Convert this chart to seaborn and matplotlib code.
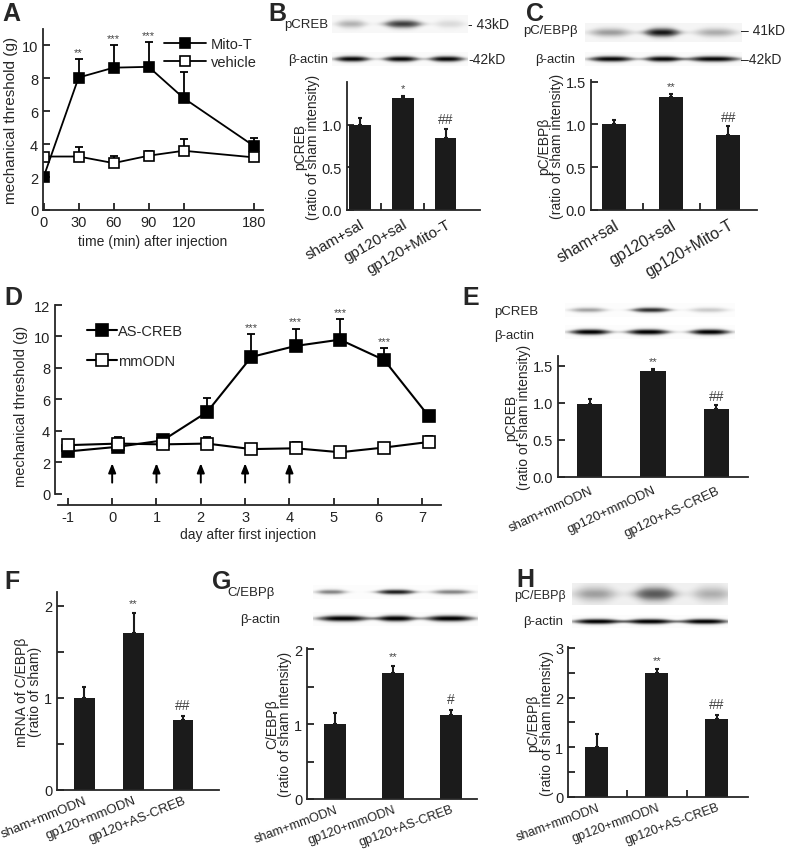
import numpy as np
import matplotlib
matplotlib.use("Agg")
import matplotlib.pyplot as plt
import seaborn as sns

sns.set_style("ticks")
plt.rcParams['font.family'] = ['Liberation Sans', 'DejaVu Sans']
plt.rcParams['axes.unicode_minus'] = False
plt.rcParams['axes.linewidth'] = 1.3
for k in ['xtick', 'ytick']:
    plt.rcParams[k + '.direction'] = 'in'
    plt.rcParams[k + '.major.width'] = 1.3
    plt.rcParams[k + '.minor.width'] = 1.3
    plt.rcParams[k + '.major.size'] = 5
    plt.rcParams[k + '.minor.size'] = 5
    plt.rcParams[k + '.color'] = '#222222'
    plt.rcParams[k + '.labelcolor'] = '#222222'

# =======================
# data
# =======================
a_time = [0, 30, 60, 90, 120, 180]
a_mito = [2.0, 8.05, 8.65, 8.7, 6.8, 3.9]
a_mito_err = [0.0, 1.1, 1.35, 1.5, 1.6, 0.45]
a_veh = [3.25, 3.25, 2.85, 3.3, 3.6, 3.2]
a_veh_err = [0.0, 0.55, 0.45, 0.3, 0.7, 0.0]
a_marks = ['', '**', '***', '***', '', '']

groups_bc = ['sham+sal', 'gp120+sal', 'gp120+Mito-T']
b_vals = [1.0, 1.31, 0.84]
b_err = [0.08, 0.03, 0.11]
b_marks = ['', '*', '##']
b_band_p = [0.35, 0.75, 0.18]
b_band_actin = [0.95, 0.95, 0.95]

c_vals = [1.0, 1.32, 0.88]
c_err = [0.05, 0.04, 0.1]
c_marks = ['', '**', '##']
c_band_p = [0.4, 0.85, 0.35]
c_band_actin = [0.95, 0.95, 0.95]

d_days = [-1, 0, 1, 2, 3, 4, 5, 6, 7]
d_as = [2.7, 3.0, 3.4, 5.2, 8.7, 9.4, 9.8, 8.5, 4.95]
d_as_err = [0.2, 0.2, 0.3, 0.9, 1.45, 1.1, 1.3, 0.75, 0.35]
d_mm = [3.1, 3.2, 3.15, 3.2, 2.85, 2.9, 2.65, 2.95, 3.3]
d_mm_err = [0.35, 0.4, 0.15, 0.4, 0.1, 0.4, 0.1, 0.15, 0.4]
d_marks = ['', '', '', '', '***', '***', '***', '***', '']
d_inject = [0, 1, 2, 3, 4]

groups_ef = ['sham+mmODN', 'gp120+mmODN', 'gp120+AS-CREB']
e_vals = [0.99, 1.43, 0.92]
e_err = [0.06, 0.03, 0.05]
e_marks = ['', '**', '##']
e_band_p = [0.45, 0.85, 0.3]
e_band_actin = [1.0, 1.0, 1.0]

f_vals = [1.0, 1.7, 0.76]
f_err = [0.12, 0.22, 0.04]
f_marks = ['', '**', '##']

g_vals = [1.0, 1.68, 1.13]
g_err = [0.15, 0.1, 0.06]
g_marks = ['', '**', '#']
g_band_p = [0.55, 0.9, 0.55]
g_band_actin = [1.0, 1.0, 1.0]

h_vals = [1.0, 2.5, 1.58]
h_err = [0.27, 0.07, 0.08]
h_marks = ['', '**', '##']
h_band_p = [0.35, 0.6, 0.3]
h_band_actin = [1.0, 1.0, 1.0]

W, H = 788, 853
fig = plt.figure(figsize=(W / 100, H / 100), dpi=100)


def px_axes(x0, y0, x1, y1):
    return fig.add_axes([x0 / W, 1 - y1 / H, (x1 - x0) / W, (y1 - y0) / H])


def ftext(x, y, s, **kw):
    fig.text(x / W, 1 - y / H, s, **kw)


def letter(x, y, s):
    ftext(x, y, s, fontsize=18, fontweight='bold', va='top', ha='left')


def blot(x0, x1, y0, y1, centers, halfw, levels, thick=0.5, base=0.04):
    ax = px_axes(x0, y0, x1, y1)
    xs = np.linspace(x0, x1, 300)
    ys = np.linspace(-1, 1, 40)
    X, Y = np.meshgrid(xs, ys)
    img = np.full_like(X, base)
    for c, hw, lv in zip(centers, halfw, levels):
        prof = np.exp(-np.abs((X - c) / hw) ** 3)
        img += lv * prof * np.exp(-(Y / (thick * (0.4 + 0.6 * prof))) ** 2)
    ax.imshow(np.clip(img, 0, 1), cmap='Greys', vmin=0, vmax=1, aspect='auto',
              interpolation='bilinear')
    ax.axis('off')


def bars(ax, groups, vals, err, marks, width, rot, xlim, ylim, yticks, ylabels,
         ylabel, minor_x=True, minor_y=None, mark_pad=0.03, xfs=9.5, xpad=5):
    sns.barplot(x=groups, y=vals, color='#1b1b1b', saturation=1, width=width,
                edgecolor='none', ax=ax)
    xs = np.arange(len(vals))
    ax.errorbar(xs, vals, yerr=[np.zeros(len(err)), err], fmt='none',
                ecolor='#1b1b1b', elinewidth=1.5, capsize=1.5, capthick=1.5)
    for x, v, e, m in zip(xs, vals, err, marks):
        if m:
            fs = 8 if '*' in m else 10
            ax.text(x, v + e + mark_pad, m, ha='center', va='bottom', fontsize=fs,
                    color='#444444')
    ax.set_xlim(*xlim)
    ax.set_ylim(*ylim)
    ax.set_xticks(xs)
    ax.set_xticklabels(groups, rotation=rot, ha='right', rotation_mode='anchor',
                       fontsize=xfs)
    ax.tick_params(axis='x', which='major', length=0, pad=xpad)
    if minor_x:
        ax.set_xticks([0.5, 1.5], minor=True)
    ax.set_yticks(yticks)
    ax.set_yticklabels(ylabels, fontsize=10.5)
    if minor_y is not None:
        ax.set_yticks(minor_y, minor=True)
    ax.set_ylabel(ylabel, fontsize=10, linespacing=0.95, labelpad=1)
    ax.set_xlabel('')
    sns.despine(ax=ax)


# =======================
# A
# =======================
ax = px_axes(43, 30, 263, 211)
ax.errorbar(a_time, a_mito, yerr=[np.zeros(6), a_mito_err], fmt='none',
            ecolor='black', elinewidth=1.3, capsize=3, capthick=1.3, zorder=1)
ax.errorbar(a_time, a_veh, yerr=[np.zeros(6), a_veh_err], fmt='none',
            ecolor='black', elinewidth=1.3, capsize=3, capthick=1.3, zorder=1)
sns.lineplot(x=a_time, y=a_mito, ax=ax, color='black', marker='s', markersize=7,
             markerfacecolor='black', markeredgecolor='black', markeredgewidth=1.2,
             linewidth=1.3, label='Mito-T')
sns.lineplot(x=a_time, y=a_veh, ax=ax, color='black', marker='s', markersize=7,
             markerfacecolor='white', markeredgecolor='black', markeredgewidth=1.2,
             linewidth=1.3, label='vehicle')
for t, v, e, m in zip(a_time, a_mito, a_mito_err, a_marks):
    if m:
        ax.text(t, v + e + 0.15, m, ha='center', va='bottom', fontsize=8, color='#444444')
ax.set_xlim(-0.5, 188)
ax.set_ylim(0, 11)
ax.set_xticks(a_time)
ax.set_yticks([0, 2, 4, 6, 8, 10])
ax.tick_params(labelsize=10.5)
ax.set_xlabel('time (min) after injection', fontsize=10)
ax.set_ylabel('mechanical threshold (g)', fontsize=11, labelpad=3)
ax.legend(loc='upper right', bbox_to_anchor=(1.03, 1.03), frameon=False, fontsize=10.5,
          handlelength=2.9, labelspacing=0.3, handletextpad=0.3)
sns.despine(ax=ax)
letter(2, 2, 'A')

# =======================
# B
# =======================
blot(332, 468, 16, 34, [351, 403, 450], [16, 20, 16], b_band_p, thick=0.5, base=0.06)
blot(332, 468, 53, 67, [352, 401, 447], [19, 19, 19], b_band_actin, thick=0.45)
ftext(328, 25, 'pCREB', ha='right', va='center', fontsize=9.5)
ftext(328, 60, 'β-actin', ha='right', va='center', fontsize=9.5)
ftext(468, 25, '- 43kD', ha='left', va='center', fontsize=10)
ftext(468, 60, '-42kD', ha='left', va='center', fontsize=10)
ax = px_axes(347, 83, 480, 211)
bars(ax, groups_bc, b_vals, b_err, b_marks, 0.5, 30, (-0.3, 2.8), (0, 1.5),
     [0, 0.5, 1.0], ['0.0', '0.5', '1.0'], 'pCREB\n(ratio of sham intensity)',
     xfs=11)
letter(268, 2, 'B')

# =======================
# C
# =======================
blot(585, 742, 24, 43, [610, 662, 716], [22, 19, 22], c_band_p, thick=0.5, base=0.08)
blot(585, 742, 53, 67, [611, 663, 714], [24, 20, 28], c_band_actin, thick=0.45)
ftext(578, 31, 'pC/EBPβ', ha='right', va='center', fontsize=9.5)
ftext(575, 60, 'β-actin', ha='right', va='center', fontsize=9.5)
ftext(741, 31, '– 41kD', ha='left', va='center', fontsize=10)
ftext(741, 60, '–42kD', ha='left', va='center', fontsize=10)
ax = px_axes(591, 81, 757, 211)
bars(ax, groups_bc, c_vals, c_err, c_marks, 0.42, 30, (-0.4, 2.5), (0, 1.52),
     [0, 0.5, 1.0, 1.5], ['0.0', '0.5', '1.0', '1.5'],
     'pC/EBPβ\n(ratio of sham intensity)', xfs=11.5)
letter(526, 2, 'C')

# =======================
# D
# =======================
ax = px_axes(55, 306, 441, 506)
d_x = [d + (0.14 if d >= 0 else 0) for d in d_days]
ax.errorbar(d_x, d_as, yerr=[np.zeros(9), d_as_err], fmt='none', ecolor='black',
            elinewidth=1.3, capsize=3, capthick=1.3, zorder=1)
ax.errorbar(d_x, d_mm, yerr=[np.zeros(9), d_mm_err], fmt='none', ecolor='black',
            elinewidth=1.3, capsize=3, capthick=1.3, zorder=1)
sns.lineplot(x=d_x, y=d_as, ax=ax, color='black', marker='s', markersize=8.5,
             markerfacecolor='black', markeredgecolor='black', markeredgewidth=1.2,
             linewidth=1.5, label='AS-CREB')
sns.lineplot(x=d_x, y=d_mm, ax=ax, color='black', marker='s', markersize=8.5,
             markerfacecolor='white', markeredgecolor='black', markeredgewidth=1.2,
             linewidth=1.5, label='mmODN')
for x, v, e, m in zip(d_x, d_as, d_as_err, d_marks):
    if m:
        ax.text(x, v + e + 0.15, m, ha='center', va='bottom', fontsize=8, color='#444444')
for d in d_inject:
    ax.annotate('', xy=(d, 1.95), xytext=(d, 0.72),
                arrowprops=dict(arrowstyle='-|>,head_length=0.55,head_width=0.22',
                                color='black', lw=1.4, shrinkA=0, shrinkB=0))
ax.set_xlim(-1.29, 7.42)
ax.set_ylim(-0.7, 12)
ax.set_xticks(d_days)
ax.set_xticklabels([str(d) for d in d_days])
ax.set_yticks([0, 2, 4, 6, 8, 10, 12])
ax.tick_params(labelsize=10.5)
ax.spines['left'].set_bounds(0, 12)
ax.spines['bottom'].set_bounds(-1.23, 7.42)
ax.set_xlabel('day after first injection', fontsize=10, labelpad=2)
ax.set_ylabel('mechanical threshold (g)', fontsize=10.5, labelpad=4)
ax.legend(loc='upper left', bbox_to_anchor=(0.05, 0.97), frameon=False, fontsize=10.5,
          handlelength=2.0, labelspacing=1.1, handletextpad=0.1)
sns.despine(ax=ax)
letter(4, 286, 'D')

# =======================
# E
# =======================
blot(565, 735, 304, 318, [588, 651, 709], [20, 21, 21], e_band_p, thick=0.4, base=0.02)
blot(565, 735, 326, 340, [590, 648, 710], [22, 23, 22], e_band_actin, thick=0.45, base=0.02)
ftext(494, 312, 'pCREB', ha='left', va='center', fontsize=9.5)
ftext(494, 336, 'β-actin', ha='left', va='center', fontsize=9.5)
ax = px_axes(558, 357, 748, 478)
bars(ax, groups_ef, e_vals, e_err, e_marks, 0.4, 25, (-0.5, 2.5), (0, 1.63),
     [0, 0.5, 1.0, 1.5], ['0.0', '0.5', '1.0', '1.5'],
     'pCREB\n(ratio of sham intensity)', minor_x=False)
letter(462, 286, 'E')

# =======================
# F
# =======================
ax = px_axes(57, 593, 219, 791)
bars(ax, groups_ef, f_vals, f_err, f_marks, 0.42, 22, (-0.55, 2.73), (0, 2.15),
     [0, 1, 2], ['0', '1', '2'], 'mRNA of C/EBPβ\n(ratio of sham)',
     minor_x=False, minor_y=[0.5, 1.5], mark_pad=0.05, xpad=3)
letter(4, 570, 'F')

# =======================
# G
# =======================
blot(313, 478, 586, 600, [331, 396, 452], [17, 21, 22], g_band_p, thick=0.4, base=0.02)
blot(313, 478, 613, 627, [343, 396, 450], [28, 21, 27], g_band_actin, thick=0.45, base=0.02)
ftext(275, 593, 'C/EBPβ', ha='right', va='center', fontsize=9.5)
ftext(280, 620, 'β-actin', ha='right', va='center', fontsize=9.5)
ax = px_axes(307, 649, 477, 800)
bars(ax, groups_ef, g_vals, g_err, g_marks, 0.38, 20, (-0.48, 2.45), (0, 2.02),
     [0, 1, 2], ['0', '1', '2'], 'C/EBPβ\n(ratio of sham intensity)',
     minor_x=False, minor_y=[0.5, 1.5], mark_pad=0.06, xfs=9.2, xpad=3)
letter(212, 570, 'G')

# =======================
# H
# =======================
blot(572, 728, 584, 606, [595, 655, 712], [22, 22, 20], h_band_p, thick=0.7, base=0.12)
blot(572, 728, 616, 629, [597, 650, 705], [26, 26, 26], h_band_actin, thick=0.45, base=0.02)
ftext(566, 596, 'pC/EBPβ', ha='right', va='center', fontsize=9)
ftext(563, 622, 'β-actin', ha='right', va='center', fontsize=9.5)
ax = px_axes(568, 648, 748, 798)
bars(ax, groups_ef, h_vals, h_err, h_marks, 0.38, 20, (-0.48, 2.52), (0, 3.02),
     [0, 1, 2, 3], ['0', '1', '2', '3'], 'pC/EBPβ\n(ratio of sham intensity)',
     minor_y=[0.5, 1.5, 2.5], mark_pad=0.08, xfs=9.2, xpad=3)
letter(516, 568, 'H')

fig.savefig('out.png', dpi=100, facecolor='white')
